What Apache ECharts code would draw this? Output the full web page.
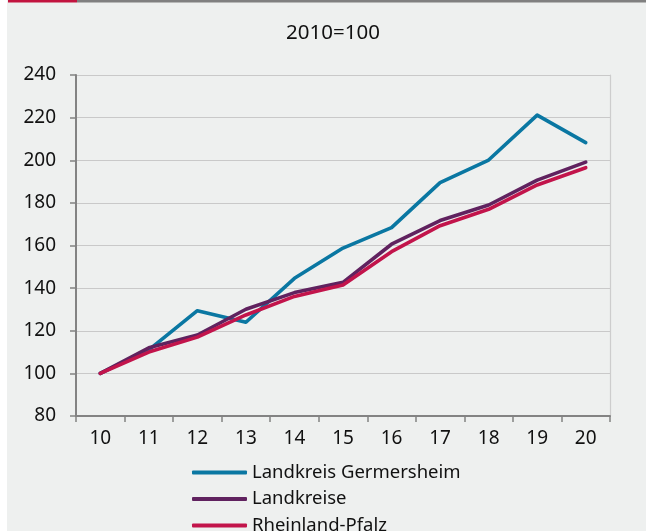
<!DOCTYPE html>
<html>
<head>
<meta charset="utf-8">
<script src="https://cdn.jsdelivr.net/npm/echarts@6/dist/echarts.min.js"></script>
<style>
  html, body { margin: 0; padding: 0; background: #ffffff; }
  #chart { width: 646px; height: 531px; }
</style>
</head>
<body>
<div id="chart"></div>
<script>
// Index values, 2010 = 100
const years = ['10', '11', '12', '13', '14', '15', '16', '17', '18', '19', '20'];
const germersheim = [100, 111, 129.4, 124.0, 144.6, 158.8, 168.4, 189.5, 200.1, 221.2, 208.3];
const landkreise = [100, 112, 118.0, 130.1, 137.9, 142.7, 160.6, 171.7, 179.0, 190.7, 199.1];
const rheinlandPfalz = [100, 110, 117.0, 127.4, 136.1, 141.5, 157.1, 169.3, 177.0, 188.4, 196.5];
const seriesNames = ['Landkreis Germersheim', 'Landkreise', 'Rheinland-Pfalz'];
const seriesColors = ['#0a77a2', '#60225f', '#c2144b'];

const FONT = 'Noto Sans';
const chart = echarts.init(document.getElementById('chart'), null, { renderer: 'canvas' });

function lineSeries(name, data, color) {
  return {
    name: name,
    type: 'line',
    data: data,
    symbol: 'none',
    lineStyle: { color: color, width: 3.6, cap: 'round', join: 'round' },
    itemStyle: { color: color },
    animation: false
  };
}

chart.setOption({
  backgroundColor: '#eef0ef',
  animation: false,
  textStyle: { fontFamily: FONT },
  graphic: [
    { type: 'rect', left: 0, top: 0, shape: { width: 7, height: 531 }, style: { fill: '#ffffff' }, silent: true },
    { type: 'rect', left: 8, top: 0, shape: { width: 69, height: 2.5 }, style: { fill: '#c2143f' }, silent: true },
    { type: 'rect', left: 77, top: 0, shape: { width: 569, height: 2.5 }, style: { fill: '#808080' }, silent: true },
    { type: 'text', x: 333, y: 33, style: { text: '2010=100', fill: '#111111', font: '20.5px "Noto Sans"', textAlign: 'center', textVerticalAlign: 'middle' }, silent: true }
  ],
  grid: { left: 76, right: 36, top: 75, bottom: 115, containLabel: false },
  xAxis: {
    type: 'category',
    data: years,
    boundaryGap: true,
    axisLine: { lineStyle: { color: '#838383', width: 2 } },
    axisTick: { show: true, length: 6, lineStyle: { color: '#838383', width: 1.5 } },
    axisLabel: { color: '#111111', fontSize: 19, margin: 13, fontFamily: FONT },
    splitLine: { show: false }
  },
  yAxis: [
    {
      type: 'value',
      min: 80,
      max: 240,
      interval: 20,
      axisLine: { show: true, lineStyle: { color: '#838383', width: 2 } },
      axisTick: { show: true, length: 6, lineStyle: { color: '#838383', width: 1.5 } },
      axisLabel: { color: '#111111', fontSize: 19, margin: 20, fontFamily: FONT },
      splitLine: { show: true, lineStyle: { color: '#c9c9c9', width: 1.2 } }
    },
    {
      type: 'value',
      position: 'right',
      min: 80,
      max: 240,
      interval: 20,
      axisLine: { show: true, lineStyle: { color: '#cdcdcd', width: 1.2 } },
      axisTick: { show: false },
      axisLabel: { show: false },
      splitLine: { show: false }
    }
  ],
  legend: {
    orient: 'vertical',
    left: 192,
    top: 463,
    height: 300,
    icon: 'roundRect',
    itemWidth: 55,
    itemHeight: 4,
    itemGap: 7.5,
    padding: 0,
    textStyle: { color: '#111111', fontSize: 18.5, fontFamily: FONT, padding: [0, 0, 0, 0] },
    data: seriesNames
  },
  series: [
    lineSeries(seriesNames[0], germersheim, seriesColors[0]),
    lineSeries(seriesNames[1], landkreise, seriesColors[1]),
    lineSeries(seriesNames[2], rheinlandPfalz, seriesColors[2])
  ]
});
</script>
</body>
</html>
